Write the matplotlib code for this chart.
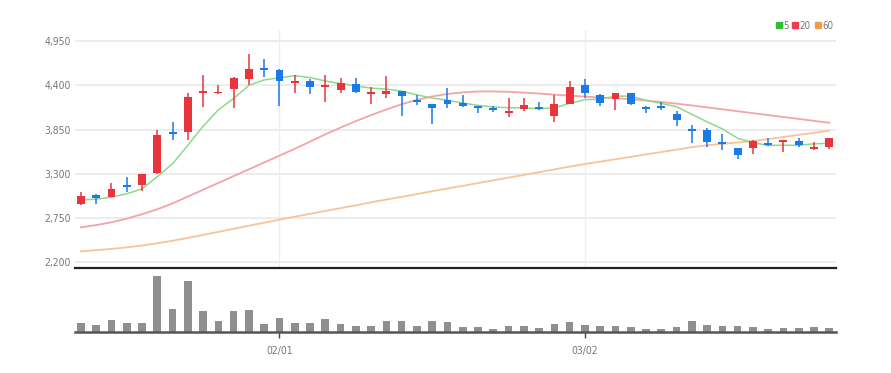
import matplotlib
matplotlib.use('Agg')
import matplotlib.pyplot as plt
from matplotlib import font_manager
from matplotlib.lines import Line2D
import numpy as np


# candles (price)
opens = [2918, 3036, 3011, 3162, 3153, 3312, 3822, 3822, 4300, 4300,
         4359, 4484, 4619, 4593, 4425, 4450, 4375, 4342, 4418, 4292,
         4292, 4325, 4217, 4174, 4217, 4183, 4141, 4116, 4057, 4107,
         4133, 4016, 4174, 4409, 4283, 4233, 4300, 4133, 4149, 4048,
         3856, 3847, 3697, 3614, 3621, 3680, 3689, 3705, 3605, 3630]
highs = [3069, 3044, 3178, 3262, 3300, 3840, 3940, 4308, 4526, 4409,
         4509, 4794, 4727, 4610, 4526, 4484, 4534, 4493, 4493, 4375,
         4518, 4330, 4283, 4174, 4367, 4283, 4141, 4149, 4242, 4242,
         4199, 4283, 4450, 4484, 4290, 4308, 4310, 4149, 4199, 4082,
         3906, 3865, 3790, 3620, 3714, 3747, 3720, 3739, 3697, 3745]
lows = [2914, 2927, 3008, 3069, 3086, 3300, 3714, 3722, 4132, 4292,
        4116, 4409, 4509, 4141, 4308, 4292, 4191, 4308, 4310, 4174,
        4242, 4016, 4158, 3915, 4124, 4133, 4057, 4066, 4007, 4082,
        4091, 3948, 4165, 4242, 4141, 4091, 4160, 4057, 4099, 3890,
        3680, 3630, 3596, 3488, 3546, 3646, 3564, 3630, 3596, 3610]
closes = [3018, 2993, 3111, 3137, 3295, 3781, 3797, 4258, 4325, 4318,
          4493, 4610, 4593, 4459, 4450, 4375, 4400, 4425, 4317, 4308,
          4325, 4267, 4192, 4116, 4174, 4149, 4124, 4091, 4073, 4158,
          4107, 4166, 4375, 4308, 4183, 4300, 4166, 4107, 4124, 3973,
          3831, 3697, 3664, 3538, 3705, 3655, 3714, 3655, 3630, 3739]

# moving averages as drawn
ma5 = [2975, 2982, 3008, 3050, 3111, 3263, 3424, 3654, 3891, 4096,
       4238, 4401, 4468, 4495, 4521, 4497, 4455, 4422, 4393, 4365,
       4355, 4328, 4282, 4242, 4215, 4180, 4151, 4131, 4122, 4119,
       4111, 4119, 4176, 4223, 4228, 4266, 4266, 4213, 4176, 4134,
       4040, 3946, 3858, 3741, 3687, 3652, 3655, 3653, 3672, 3679]
ma20 = [2631, 2660, 2695, 2740, 2795, 2857, 2930, 3015, 3100, 3185,
        3270, 3355, 3440, 3525, 3610, 3700, 3790, 3875, 3955, 4030,
        4100, 4165, 4220, 4262, 4293, 4313, 4324, 4325, 4320, 4310,
        4298, 4285, 4272, 4260, 4250, 4240, 4228, 4212, 4193, 4172,
        4150, 4126, 4102, 4078, 4054, 4030, 4006, 3982, 3958, 3935]
ma60 = [2333, 2347, 2363, 2382, 2405, 2433, 2465, 2500, 2537, 2575,
        2614, 2652, 2690, 2727, 2764, 2800, 2836, 2871, 2906, 2944,
        2978, 3012, 3046, 3081, 3115, 3149, 3183, 3217, 3251, 3285,
        3319, 3353, 3388, 3420, 3450, 3480, 3510, 3540, 3570, 3600,
        3630, 3654, 3672, 3689, 3707, 3731, 3757, 3784, 3809, 3835]

# volume (relative units)
volume = [90, 70, 123, 93, 93, 557, 233, 503, 210, 107,
          210, 217, 80, 140, 93, 93, 130, 80, 57, 63,
          113, 110, 57, 107, 97, 47, 47, 27, 63, 63,
          40, 80, 97, 73, 57, 63, 47, 27, 27, 47,
          113, 73, 57, 57, 47, 30, 40, 40, 47, 40]

tick_pos = [13, 33]
tick_labels = ['02/01', '03/02']
price_ticks = [2200, 2750, 3300, 3850, 4400, 4950]

UP = '#e8343c'
DOWN = '#1a7ae6'
TXT = '#777777'


def narrow_font(size):
    # look for a condensed face, else fall back to Liberation Sans
    for f in font_manager.fontManager.ttflist:
        fn = f.fname.lower()
        if 'narrow' in fn or 'condensed' in fn:
            if 'bold' not in fn and 'oblique' not in fn and 'italic' not in fn:
                return font_manager.FontProperties(fname=f.fname, size=size)
    return font_manager.FontProperties(family='Liberation Sans', size=size - 0.5)


tick_font = narrow_font(7.5)
legend_font = narrow_font(7)

fig = plt.figure(figsize=(8.91, 3.73), dpi=100)
ax = fig.add_axes([75 / 891, 1 - 268 / 373, 761 / 891, 238 / 373])
axv = fig.add_axes([75 / 891, 1 - 332 / 373, 761 / 891, 64 / 373], sharex=ax)

x = np.arange(len(closes))
o = np.array(opens)
c = np.array(closes)
colors = [UP if cc >= oo else DOWN for oo, cc in zip(o, c)]

# moving average lines
ax.plot(x, ma60, color='#f9c398', lw=1.3, zorder=2)
ax.plot(x, ma20, color='#f4a3aa', lw=1.3, zorder=2)
ax.plot(x, ma5, color='#8ed98a', lw=1.1, zorder=3)

# candles
ax.vlines(x, lows, highs, colors=colors, lw=1.1, zorder=4)
body_bottom = np.minimum(o, c)
body_h = np.maximum(np.abs(c - o), 22)
ax.bar(x, body_h, bottom=body_bottom, width=0.52, color=colors, zorder=5)

ax.set_xlim(-0.39, 49.44)
ax.set_ylim(2125, 5090)
ax.set_yticks(price_ticks)
ax.set_yticklabels([f'{v:,}' for v in price_ticks], fontproperties=tick_font,
                   color=TXT)
ax.grid(axis='y', color='#ebebeb', lw=1.3)
for p in tick_pos:
    ax.axvline(p, color='#eeeeee', lw=1, zorder=0)
ax.set_axisbelow(True)
ax.tick_params(axis='y', which='both', length=0, pad=3)
ax.tick_params(axis='x', which='both', bottom=False, top=False,
               labelbottom=False, length=0)
for s in ax.spines.values():
    s.set_visible(False)

# volume panel, its top edge is the dark separator line
axv.bar(x, volume, width=0.5, color='#8f8f8f', zorder=2)
axv.set_ylim(0, 637)
axv.set_yticks([])
axv.tick_params(axis='y', which='both', left=False, length=0)
axv.set_xticks(tick_pos)
axv.set_xticklabels(tick_labels, fontproperties=tick_font, color=TXT)
axv.tick_params(axis='x', length=4, width=1, color='#444444', pad=6)
axv.spines['left'].set_visible(False)
axv.spines['right'].set_visible(False)
axv.spines['top'].set_color('#222222')
axv.spines['top'].set_linewidth(1.6)
axv.spines['bottom'].set_color('#555555')
axv.spines['bottom'].set_linewidth(1.8)

# legend
handles = [Line2D([], [], ls='', marker='s', ms=5, color=col)
           for col in ['#2fbf2f', '#f03c4c', '#f0a040']]
fig.legend(handles, ['5', '20', '60'], loc='upper right',
           bbox_to_anchor=(838 / 891, 1 - 16 / 373), ncol=3, frameon=False,
           handlelength=0.6, handletextpad=0.15, columnspacing=0.4,
           borderpad=0, prop=legend_font, labelcolor=TXT)

fig.savefig('out.png', dpi=100, facecolor='white')
